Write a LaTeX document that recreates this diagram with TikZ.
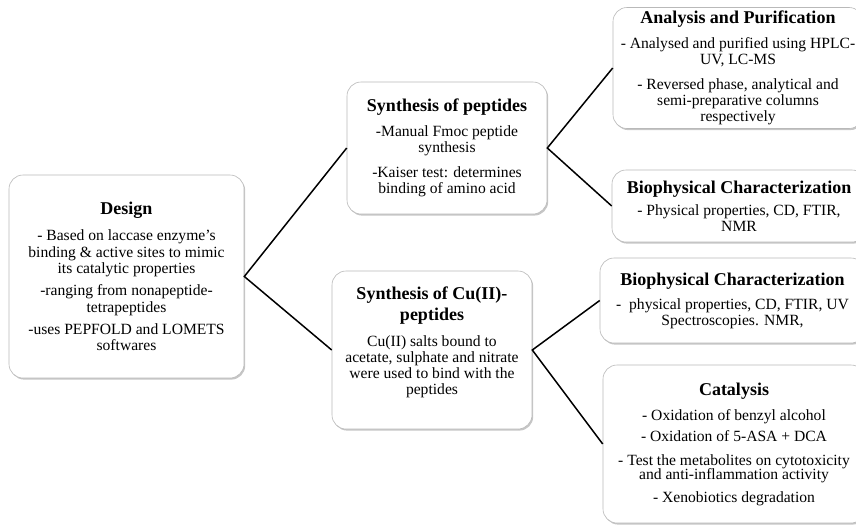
\documentclass[tikz,border=0pt]{standalone}
\usepackage{fontspec}
\setmainfont{Liberation Serif}
\usetikzlibrary{shadows}

\tikzset{
  stagebox/.style={draw=gray!55, fill=white, rounded corners=14pt, line width=0.6pt,
    drop shadow={shadow xshift=1.2pt, shadow yshift=-1.6pt, opacity=0.45},
    align=center, inner sep=0pt, font=\fontsize{15.6}{16}\selectfont},
  link/.style={line width=1.5pt, black}
}
\newcommand{\boxhead}[1]{{\fontsize{18}{20}\selectfont\bfseries #1}}

\begin{document}
\begin{tikzpicture}[x=1pt,y=-1pt]
  \useasboundingbox (0,0) rectangle (856,525);
  \clip (0,0) rectangle (856,525);

  % first column
  \node[stagebox, minimum width=235pt, minimum height=203pt] (design) at (126.5,276.5)
    {\boxhead{Design}\\[10pt]
     - Based on laccase enzyme’s\\[0.5pt] binding \& active sites to mimic\\[0.5pt] its catalytic properties\\[6pt]
     -ranging from nonapeptide-\\[0.5pt] tetrapeptides\\[6pt]
     -uses PEPFOLD and LOMETS\\[0.5pt] softwares};

  % second column
  \node[stagebox, minimum width=200pt, minimum height=132pt] (pepsyn) at (447,148)
    {\boxhead{Synthesis of peptides}\\[9pt]
     -Manual Fmoc peptide\\ synthesis\\[9pt]
     -Kaiser test: determines\\ binding of amino acid};
  \node[stagebox, minimum width=200pt, minimum height=158pt] (cusyn) at (432,350)
    {\boxhead{Synthesis of Cu(II)-}\\[3pt] \boxhead{peptides}\\[10pt]
     Cu(II) salts bound to\\ acetate, sulphate and nitrate\\ were used to bind with the\\ peptides\\[3pt]\mbox{}};

  % third column
  \node[stagebox, minimum width=250pt, minimum height=121pt] (purify) at (738,68)
    {\boxhead{Analysis and Purification}\\[9pt]
     - Analysed and purified using HPLC-\\ UV, LC-MS\\[9pt]
     - Reversed phase, analytical and\\ semi-preparative columns\\ respectively};
  \node[stagebox, minimum width=254pt, minimum height=72pt] (biophysA) at (739,206)
    {\boxhead{Biophysical Characterization}\\[6pt]
     - Physical properties, CD, FTIR,\\ NMR};
  \node[stagebox, minimum width=265pt, minimum height=85pt] (biophysB) at (732.5,300.5)
    {\boxhead{Biophysical Characterization}\\[8pt]
     - \ physical properties, CD, FTIR, UV\\ Spectroscopies. NMR,};
  \node[stagebox, minimum width=262pt, minimum height=158pt] (catalysis) at (734,444)
    {\boxhead{Catalysis}\\[9pt]
     - Oxidation of benzyl alcohol\\[5pt]
     - Oxidation of 5-ASA + DCA\\[8pt]
     - Test the metabolites on cytotoxicity\\[-2pt] and anti-inflammation activity\\[7pt]
     - Xenobiotics degradation};

  % connectors
  \draw[link] (pepsyn.west) -- (design.east) -- (cusyn.west);
  \draw[link] (purify.west) -- (pepsyn.east) -- (biophysA.west);
  \draw[link] (biophysB.west) -- (cusyn.east) -- (catalysis.west);
\end{tikzpicture}
\end{document}
